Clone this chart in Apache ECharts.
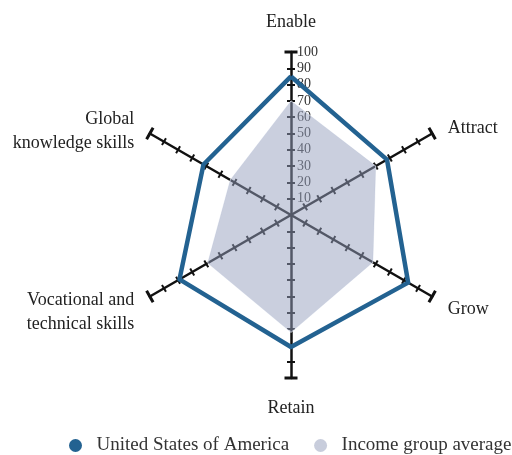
<!DOCTYPE html>
<html>
<head>
<meta charset="utf-8">
<script src="https://cdn.jsdelivr.net/npm/echarts@6/dist/echarts.min.js"></script>
<style>
  html, body { margin: 0; padding: 0; background: #fff; }
  #chart { width: 512px; height: 455px; }
</style>
</head>
<body>
<div id="chart"></div>
<script>
// Dimensions of the talent competitiveness profile, listed clockwise from the top
const dimensions = ['Enable', 'Attract', 'Grow', 'Retain', 'Vocational and\ntechnical skills', 'Global\nknowledge skills'];
const usaValues = [85, 68, 83, 81, 79, 62];
const incomeValues = [70, 60, 58, 72, 59, 43];
const seriesNames = ['United States of America', 'Income group average'];
const tickValues = [10, 20, 30, 40, 50, 60, 70, 80, 90, 100];
const axisMax = 100;

const FONT = 'Liberation Serif';
const CENTER = [291, 215];
const RADIUS = 163;

// ECharts lays radar indicators out counter-clockwise, so walk the list backwards after the first
const order = [0, 5, 4, 3, 2, 1];
const pick = arr => order.map(i => arr[i]);
const isSide = name => name !== 'Enable' && name !== 'Retain';

const topBottomIndicators = pick(dimensions).map(d => ({ name: isSide(d) ? '' : d, max: axisMax, min: 0 }));
const sideIndicators = pick(dimensions).map(d => ({ name: isSide(d) ? d : '', max: axisMax, min: 0 }));

const nameStyle = { show: true, color: '#222', fontFamily: FONT, fontSize: 18, lineHeight: 24 };

function radarLayer(indicator, opts) {
  return Object.assign({
    indicator: indicator,
    center: CENTER,
    radius: RADIUS,
    startAngle: 90,
    shape: 'polygon',
    splitNumber: 10,
    axisName: { show: false },
    axisLine: { show: false },
    axisTick: { show: false },
    axisLabel: { show: false },
    splitLine: { show: false },
    splitArea: { show: false },
    silent: true
  }, opts);
}

const chart = echarts.init(document.getElementById('chart'), null, { renderer: 'canvas' });

chart.setOption({
  backgroundColor: '#fff',
  animation: false,
  legend: {
    data: seriesNames,
    bottom: 0,
    left: 69,
    padding: 0,
    icon: 'circle',
    itemWidth: 32,
    itemHeight: 13,
    itemGap: 25,
    textStyle: { fontFamily: FONT, fontSize: 19, color: '#333' }
  },
  radar: [
    // axes, end caps and one half of each tick, plus the top and bottom names
    radarLayer(topBottomIndicators, {
      nameGap: 18,
      axisName: nameStyle,
      axisLine: {
        show: true,
        symbol: ['none', 'rect'],
        symbolSize: [13, 3],
        lineStyle: { color: '#111', width: 2.5 }
      },
      axisTick: { show: true, length: 4, customValues: tickValues, lineStyle: { color: '#111', width: 2 } }
    }),
    // other half of each tick, plus the side names (nudged down by a thin spacer line)
    radarLayer(sideIndicators, {
      nameGap: 18,
      axisName: Object.assign({}, nameStyle, {
        formatter: name => {
          if (!name) return '';
          return (name.indexOf('\n') >= 0 ? '{gap2| }\n' : '{gap1| }\n') + name;
        },
        rich: {
          gap1: { fontSize: 2, lineHeight: 7 },
          gap2: { fontSize: 2, lineHeight: 14 }
        }
      }),
      axisTick: { show: true, length: -4, customValues: tickValues, lineStyle: { color: '#111', width: 2 } }
    }),
    // scale labels on the Enable axis only
    radarLayer([{ name: '', max: axisMax, min: 0 }], {
      axisLabel: { show: true, showMinLabel: false, margin: -6, align: 'left', color: '#333', fontFamily: FONT, fontSize: 14 }
    })
  ],
  series: [{
    type: 'radar',
    radarIndex: 0,
    symbol: 'none',
    data: [
      {
        name: seriesNames[1],
        value: pick(incomeValues),
        itemStyle: { color: '#c8cddc' },
        lineStyle: { color: 'rgba(235,238,245,0.9)', width: 1 },
        areaStyle: { color: 'rgb(150,160,190)', opacity: 0.5 }
      },
      {
        name: seriesNames[0],
        value: pick(usaValues),
        itemStyle: { color: '#236291' },
        lineStyle: { color: '#236291', width: 4.5 }
      }
    ]
  }]
});
</script>
</body>
</html>
